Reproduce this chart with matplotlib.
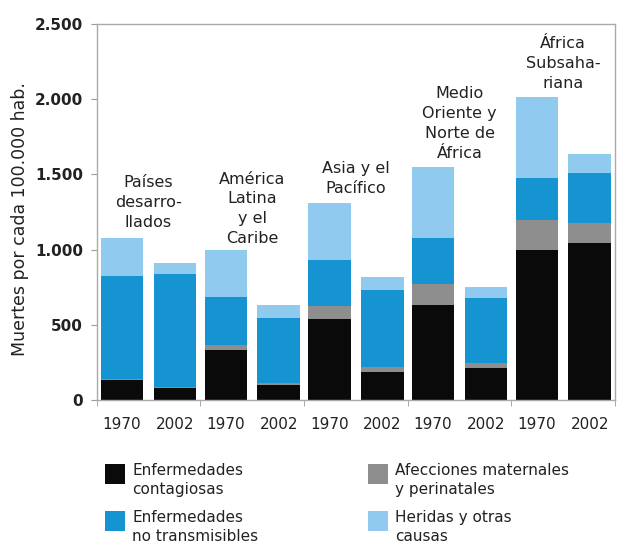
# Mortality by cause, 1970 vs 2002, per region (stacked bars)

import matplotlib
matplotlib.use("Agg")
import matplotlib.pyplot as plt
from matplotlib.patches import Rectangle
from matplotlib.ticker import FuncFormatter, FixedLocator

regions = ["Países\ndesarro-\nllados", "América\nLatina\ny el\nCaribe",
           "Asia y el\nPacífico", "Medio\nOriente y\nNorte de\nÁfrica",
           "África\nSubsaha-\nriana"]
years = ["1970", "2002"] * 5

contagiosas = [133, 80, 332, 100, 535, 186, 632, 213, 997, 1044]
maternales = [4, 6, 34, 10, 90, 33, 139, 33, 200, 133]
no_transmisibles = [685, 752, 320, 434, 306, 512, 306, 432, 279, 332]
heridas = [252, 72, 311, 88, 379, 87, 472, 73, 539, 127]

legend_labels = ["Enfermedades\ncontagiosas", "Afecciones maternales\ny perinatales",
                 "Enfermedades\nno transmisibles", "Heridas y otras\ncausas"]

c_black = '#0a0a0a'
c_gray = '#8e8e8e'
c_blue = '#1693d1'
c_light = '#90cbef'

W, H = 620, 554


def main():
    fig = plt.figure(figsize=(6.2, 5.54), dpi=100)
    ax = fig.add_axes([0.156, 0.278, 0.836, 0.679])

    xs = []
    for g in range(5):
        xs += [g + 0.245, g + 0.755]
    w = 0.41

    bottom = [0] * 10
    for vals, col in [(contagiosas, c_black), (maternales, c_gray),
                      (no_transmisibles, c_blue), (heridas, c_light)]:
        ax.bar(xs, vals, width=w, bottom=bottom, color=col, linewidth=0)
        bottom = [b + v for b, v in zip(bottom, vals)]

    ax.set_xlim(0, 5)
    ax.set_ylim(0, 2500)
    ax.set_yticks([0, 500, 1000, 1500, 2000, 2500])
    ax.yaxis.set_major_formatter(FuncFormatter(lambda v, p: format(int(v), ',').replace(',', '.')))
    ax.set_xticks(xs)
    ax.set_xticklabels(years)
    ax.xaxis.set_minor_locator(FixedLocator([0, 1, 2, 3, 4, 5]))
    ax.tick_params(axis='x', which='major', length=0, pad=12, labelsize=11,
                   labelcolor='#222222')
    ax.tick_params(axis='x', which='minor', length=4, color='#999999')
    ax.tick_params(axis='y', length=4, color='#999999', labelsize=11, pad=6,
                   labelcolor='#222222')
    for lab in ax.get_yticklabels():
        lab.set_fontweight('bold')
    for s in ax.spines.values():
        s.set_color('#aaaaaa')
        s.set_linewidth(1.0)

    ax.set_ylabel("Muertes por cada 100.000 hab.", fontsize=12.5, color='#222222')
    ax.yaxis.set_label_coords(-0.13, 0.48)

    # region labels above each pair of bars
    label_y = [1130, 1024, 1356, 1589, 2055]
    for g, (txt, y) in enumerate(zip(regions, label_y)):
        ax.text(g + 0.5, y, txt, ha='center', va='bottom', fontsize=11.5,
                linespacing=1.4, color='#222222')

    # legend, two columns, drawn by hand to match the original layout
    colors = [c_black, c_gray, c_blue, c_light]
    col_x = [105, 368]
    row_y = [464, 511]
    for i, (lab, col) in enumerate(zip(legend_labels, colors)):
        x0 = col_x[i % 2]
        y0 = row_y[i // 2]
        fig.add_artist(Rectangle((x0 / W, 1 - (y0 + 20) / H), 20 / W, 20 / H,
                                 transform=fig.transFigure, color=col, lw=0))
        fig.text((x0 + 27) / W, 1 - (y0 - 1) / H, lab, ha='left', va='top',
                 fontsize=11, linespacing=1.35, color='#222222')

    fig.savefig("out.png", dpi=100)


if __name__ == "__main__":
    main()
